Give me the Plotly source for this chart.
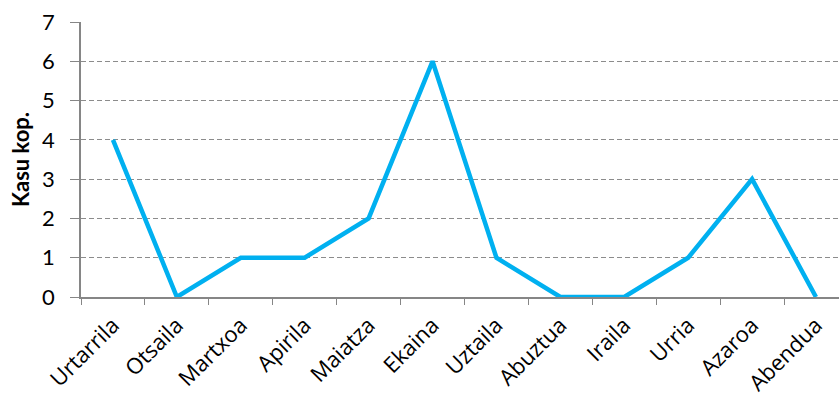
import plotly.graph_objects as go

# Monthly case counts
months = ["Urtarrila", "Otsaila", "Martxoa", "Apirila", "Maiatza", "Ekaina",
          "Uztaila", "Abuztua", "Iraila", "Urria", "Azaroa", "Abendua"]
cases = [4, 0, 1, 1, 2, 6, 1, 0, 0, 1, 3, 0]
y_ticks = [0, 1, 2, 3, 4, 5, 6, 7]

axis_grey = "#868686"
font_family = "Lato, 'Open Sans', sans-serif"

fig = go.Figure(
    go.Scatter(
        x=months,
        y=cases,
        mode="lines",
        line=dict(color="#00B0F0", width=4.5),
        hoverinfo="x+y",
    )
)

fig.update_layout(
    width=839,
    height=397,
    margin=dict(l=81, r=0, t=22, b=100),
    paper_bgcolor="white",
    plot_bgcolor="white",
    showlegend=False,
    font=dict(family=font_family, size=20, color="#000000"),
)

fig.update_xaxes(
    type="category",
    range=[-0.5, 11.36],
    tickangle=-45,
    tickson="boundaries",
    ticks="outside",
    ticklen=6,
    tickcolor=axis_grey,
    showline=True,
    linecolor=axis_grey,
    linewidth=1.5,
    showgrid=False,
    tickfont=dict(family="'Open Sans', sans-serif", size=22),
    ticklabelstandoff=5,
    automargin=False,
)

fig.update_yaxes(
    range=[0, 7],
    tickvals=y_ticks,
    ticks="outside",
    ticklen=9,
    tickcolor=axis_grey,
    showline=True,
    linecolor=axis_grey,
    linewidth=1.5,
    showgrid=True,
    gridcolor="#8c8c8c",
    griddash="5px,3px",
    gridwidth=1,
    zeroline=False,
    tickfont=dict(size=22),
    ticklabelstandoff=11,
    automargin=False,
    title=dict(text="<b>Kasu kop.</b>", font=dict(size=22), standoff=6),
)

fig.write_html("out.html")
